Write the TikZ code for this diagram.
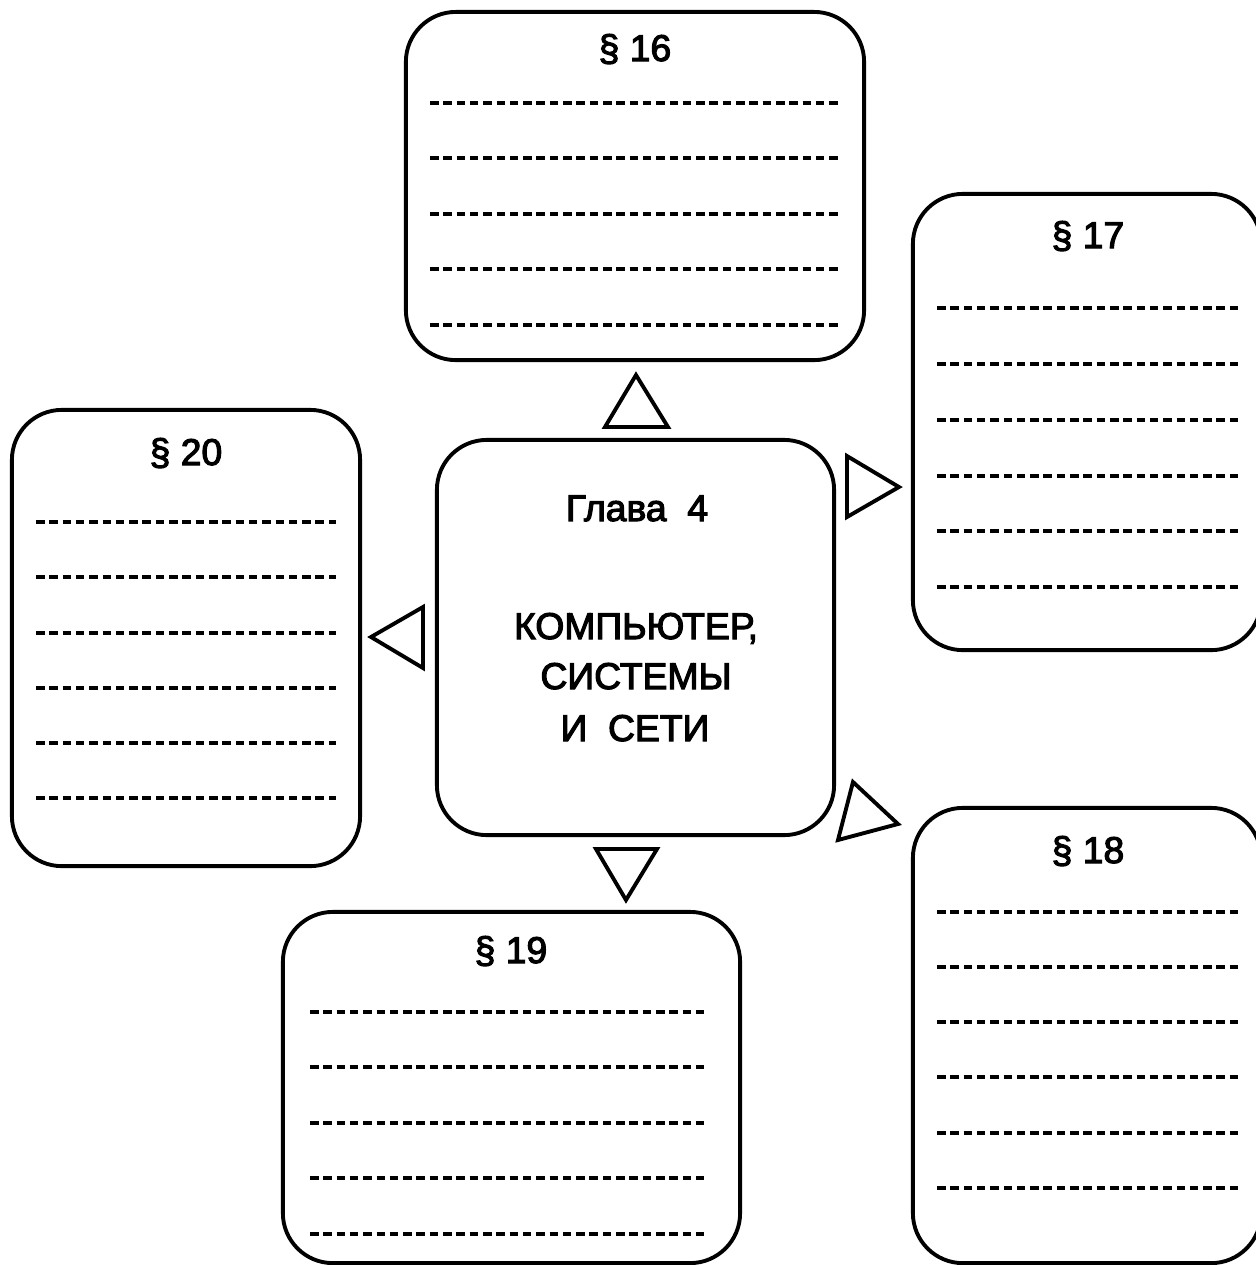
\documentclass[tikz,border=0pt]{standalone}
\usepackage{fontspec}
\setmainfont{Liberation Sans}
\newfontfamily\fonteglava[FakeBold=3]{Liberation Sans}
\begin{document}
\begin{tikzpicture}[x=0.01cm, y=-0.01cm,
    caixa/.style={draw, line width=1.1pt, rounded corners=0.5cm, inner sep=0pt},
    titulo/.style={anchor=base, font=\fonteglava\fontsize{10.6}{12}\selectfont},
    linha/.style={line width=0.9pt, dash pattern=on 0.085cm off 0.048cm},
    seta/.style={line width=1.1pt, line join=miter}]
    \useasboundingbox (0,0) rectangle (1256,1265);
    % caixas
    \node[caixa, minimum width=4.58cm, minimum height=3.48cm] (p16) at (635,186) {};
    \node[caixa, minimum width=3.48cm, minimum height=4.56cm] (p17) at (1087,422) {};
    \node[caixa, minimum width=3.48cm, minimum height=4.55cm] (p18) at (1087,1035.5) {};
    \node[caixa, minimum width=4.57cm, minimum height=3.51cm] (p19) at (511.5,1087.5) {};
    \node[caixa, minimum width=3.48cm, minimum height=4.56cm] (p20) at (186,638) {};
    \node[caixa, minimum width=3.97cm, minimum height=3.95cm] (glava) at (635.5,637.5) {};
    % titulos
    \node[titulo] (t16) at (635,61) {§ 16};
    \node[titulo] (t17) at (1088,248) {§ 17};
    \node[titulo] (t18) at (1088,863) {§ 18};
    \node[titulo] (t19) at (511,963) {§ 19};
    \node[titulo] (t20) at (186,465) {§ 20};
    \node[titulo] (tg) at (637,521) {Глава\ \ 4};
    \node[titulo] (tk) at (636,639) {КОМПЬЮТЕР,};
    \node[titulo] (ts) at (636,689) {СИСТЕМЫ};
    \node[titulo] (ti) at (635,741) {И\ \ СЕТИ};
    % linhas tracejadas
    \foreach \y in {103,158,214,269,325}
        \draw[linha] (430,\y) -- (840,\y);
    \foreach \y in {308,364,420,476,531,587}
        \draw[linha] (937,\y) -- (1238,\y);
    \foreach \y in {912,967,1022,1077,1133,1188}
        \draw[linha] (937,\y) -- (1238,\y);
    \foreach \y in {1012,1067,1123,1178,1234}
        \draw[linha] (310,\y) -- (708,\y);
    \foreach \y in {522,577,633,688,743,798}
        \draw[linha] (36,\y) -- (336,\y);
    % setas
    \draw[seta] (605,427) -- (668,427) -- (636,375) -- cycle;
    \draw[seta] (847,456) -- (847,517) -- (899,487) -- cycle;
    \draw[seta] (423,607) -- (423,668) -- (371,637) -- cycle;
    \draw[seta] (596,849) -- (657,849) -- (626,900) -- cycle;
    \draw[seta] (853,782) -- (898,824) -- (838,840) -- cycle;
\end{tikzpicture}
\end{document}
